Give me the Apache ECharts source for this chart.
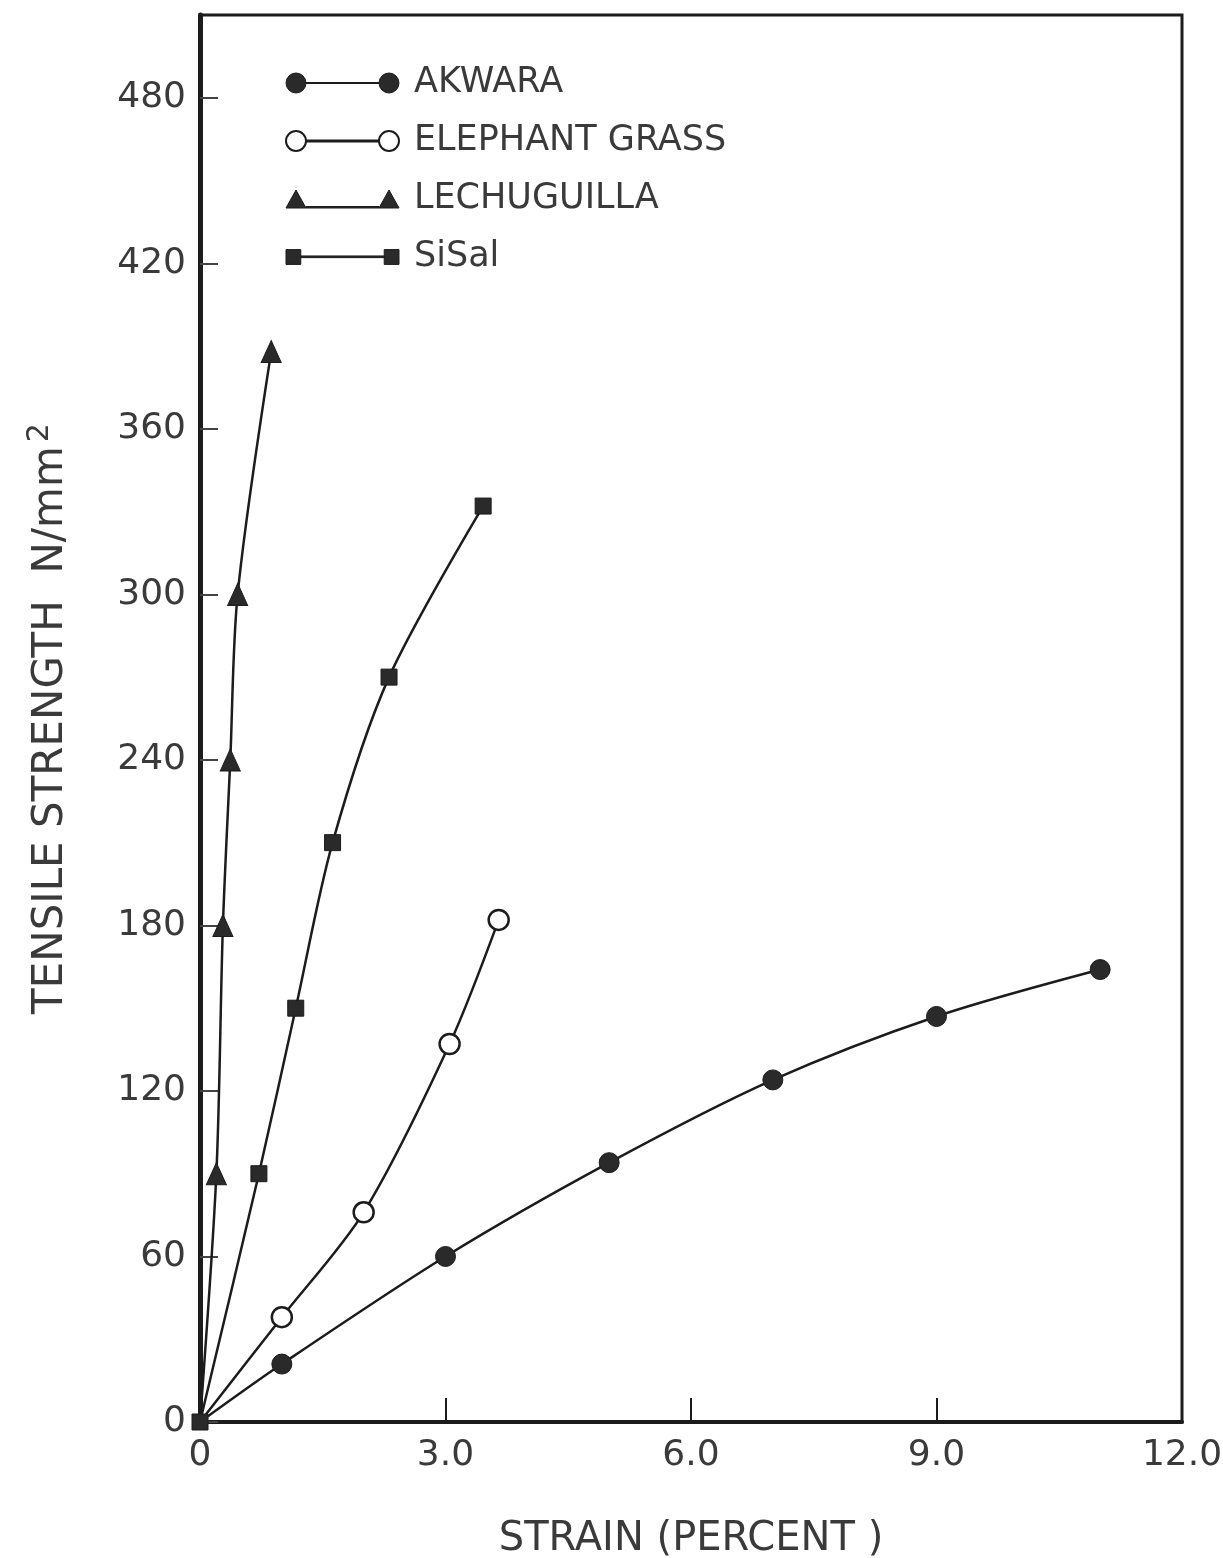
<!DOCTYPE html>
<html>
<head>
<meta charset="utf-8">
<title>Tensile strength vs strain</title>
<script src="https://cdn.jsdelivr.net/npm/echarts@6/dist/echarts.min.js"></script>
<style>
  html, body { margin: 0; padding: 0; background: #fff; overflow: hidden; }
  #chart { width: 1223px; height: 1558px; }
</style>
</head>
<body>
<div id="chart"></div>
<script>
// Strain (percent) and tensile strength (N/mm2) for four natural fibres
const akwaraStrain = [0, 1.0, 3.0, 5.0, 7.0, 9.0, 11.0];
const akwaraStrength = [0, 21, 60, 94, 124, 147, 164];

const elephantStrain = [0, 1.0, 2.0, 3.05, 3.65];
const elephantStrength = [0, 38, 76, 137, 182];

const lechuguillaStrain = [0, 0.2, 0.28, 0.37, 0.46, 0.87];
const lechuguillaStrength = [0, 90, 180, 240, 300, 388];

const sisalStrain = [0, 0.72, 1.17, 1.62, 2.31, 3.46];
const sisalStrength = [0, 90, 150, 210, 270, 332];

const seriesNames = ['AKWARA', 'ELEPHANT GRASS', 'LECHUGUILLA', 'SiSal'];

const xTicks = [0, 3.0, 6.0, 9.0, 12.0];
const yTicks = [0, 60, 120, 180, 240, 300, 360, 420, 480];

const INK = '#1c1c1c';
const TEXT = '#3a3a3a';
const FONT = '"DejaVu Sans", "Liberation Sans", sans-serif';

// pair x and y arrays; the origin point carries no marker unless asked
function pairs(xs, ys, markOrigin) {
  return xs.map((x, i) => {
    if (i === 0 && !markOrigin) return { value: [x, ys[i]], symbol: 'none' };
    return [x, ys[i]];
  });
}

// legend keys: marker, connecting line, marker
const ICON_CIRCLE = 'path://M0,10a10,10 0 1,0 20,0a10,10 0 1,0 -20,0z M20,9.5h73v1h-73z M93,10a10,10 0 1,0 20,0a10,10 0 1,0 -20,0z';
const ICON_TRIANGLE = 'path://M0,20L10,2L20,20z M20,18.5h73v1.5h-73z M93,20L103,2L113,20z';
const ICON_SQUARE = 'path://M3,4h14v14h-14z M17,10h79v1.6h-79z M96,4h14v14h-14z';

const chart = echarts.init(document.getElementById('chart'), null, { renderer: 'canvas' });

const lineBase = {
  type: 'line',
  smooth: 0.3,
  lineStyle: { color: INK, width: 2.5 },
  emphasis: { disabled: true },
  z: 3
};

chart.setOption({
  animation: false,
  backgroundColor: '#ffffff',
  textStyle: { fontFamily: FONT },
  grid: {
    left: 200, right: 41, top: 15, bottom: 136,
    outerBoundsMode: 'none',
    containLabel: false,
    show: true, borderColor: INK, borderWidth: 3,
    backgroundColor: 'transparent'
  },
  legend: {
    orient: 'vertical',
    left: 280,
    top: 58,
    itemWidth: 113,
    itemHeight: 20,
    itemGap: 18,
    selectedMode: false,
    textStyle: {
      fontFamily: FONT, fontSize: 35, color: TEXT,
      lineHeight: 40, padding: [0, 0, 0, 10]
    },
    data: [
      { name: seriesNames[0], icon: ICON_CIRCLE, itemStyle: { color: '#2a2a2a', borderColor: INK, borderWidth: 1 } },
      { name: seriesNames[1], icon: ICON_CIRCLE, itemStyle: { color: '#ffffff', borderColor: INK, borderWidth: 2 } },
      { name: seriesNames[2], icon: ICON_TRIANGLE, itemStyle: { color: '#2a2a2a', borderColor: INK, borderWidth: 1 } },
      { name: seriesNames[3], icon: ICON_SQUARE, itemStyle: { color: '#2a2a2a', borderColor: INK, borderWidth: 1 } }
    ]
  },
  xAxis: {
    type: 'value',
    min: 0, max: 12, interval: 3,
    name: 'STRAIN (PERCENT )',
    nameLocation: 'middle',
    nameGap: 98,
    nameTextStyle: { fontFamily: FONT, fontSize: 40, color: TEXT },
    axisLine: { show: true, onZero: false, lineStyle: { color: INK, width: 4 } },
    axisTick: { show: true, inside: true, length: 24, lineStyle: { color: INK, width: 2 } },
    axisLabel: {
      fontFamily: FONT, fontSize: 36, color: TEXT, margin: 16,
      formatter: v => (xTicks.indexOf(v) < 0 ? '' : (v === 0 ? '0' : v.toFixed(1)))
    },
    splitLine: { show: false }
  },
  yAxis: {
    type: 'value',
    min: 0, max: 510, interval: 60,
    name: 'TENSILE STRENGTH  N/mm{sup|2}',
    nameLocation: 'middle',
    nameGap: 123,
    nameRotate: 90,
    nameTextStyle: {
      fontFamily: FONT, fontSize: 42, color: TEXT,
      rich: { sup: { fontFamily: FONT, fontSize: 30, color: TEXT, verticalAlign: 'top', padding: [0, 0, 22, 4] } }
    },
    axisLine: { show: true, onZero: false, lineStyle: { color: INK, width: 5 } },
    axisTick: { show: true, inside: true, length: 18, lineStyle: { color: '#444', width: 2 } },
    axisLabel: {
      fontFamily: FONT, fontSize: 36, color: TEXT, margin: 14,
      showMaxLabel: false,
      formatter: v => (yTicks.indexOf(v) < 0 ? '' : String(v))
    },
    splitLine: { show: false }
  },
  series: [
    Object.assign({}, lineBase, {
      name: seriesNames[0],
      symbol: 'circle', symbolSize: 20,
      itemStyle: { color: '#2a2a2a', borderColor: INK, borderWidth: 1 },
      data: pairs(akwaraStrain, akwaraStrength, false)
    }),
    Object.assign({}, lineBase, {
      name: seriesNames[1],
      symbol: 'circle', symbolSize: 20,
      itemStyle: { color: '#ffffff', borderColor: INK, borderWidth: 2.5 },
      data: pairs(elephantStrain, elephantStrength, false)
    }),
    Object.assign({}, lineBase, {
      name: seriesNames[2],
      symbol: 'triangle', symbolSize: [20, 22],
      itemStyle: { color: '#2a2a2a', borderColor: INK, borderWidth: 1 },
      data: pairs(lechuguillaStrain, lechuguillaStrength, false)
    }),
    Object.assign({}, lineBase, {
      name: seriesNames[3],
      symbol: 'rect', symbolSize: 16,
      itemStyle: { color: '#2a2a2a', borderColor: INK, borderWidth: 1 },
      data: pairs(sisalStrain, sisalStrength, true)
    })
  ]
});
</script>
</body>
</html>
